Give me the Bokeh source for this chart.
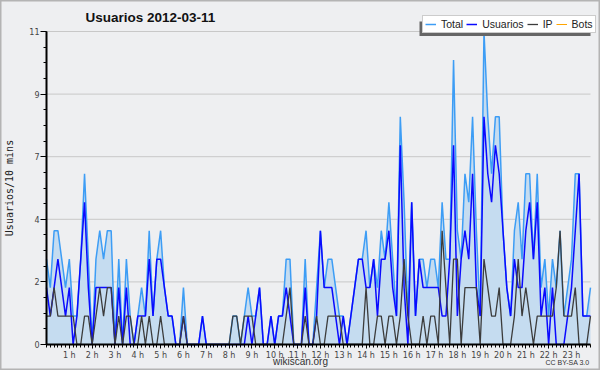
from bokeh.plotting import figure
from bokeh.models import (Range1d, FixedTicker, CustomJSTickFormatter, Legend, LegendItem,
                          Label, BoxAnnotation)
from bokeh.embed import file_html
from bokeh.resources import INLINE

# values per 10-minute slot (144 slots)
total = [3, 2, 4, 4, 3, 2, 3, 1, 1, 3,
         6, 3, 0, 3, 4, 3, 4, 4, 0, 3,
         0, 3, 1, 0, 1, 2, 1, 4, 1, 3,
         4, 2, 1, 1, 0, 0, 2, 0, 0, 0,
         0, 1, 0, 0, 0, 0, 0, 0, 0, 1,
         1, 0, 1, 2, 1, 1, 2, 0, 0, 1,
         0, 1, 1, 3, 3, 0, 0, 0, 3, 0,
         0, 2, 4, 2, 3, 3, 2, 1, 1, 0,
         1, 2, 3, 3, 4, 2, 3, 2, 4, 3,
         5, 3, 1, 8, 5, 1, 5, 1, 3, 3,
         2, 3, 3, 2, 5, 3, 3, 10, 4, 3,
         6, 5, 8, 4, 1, 11, 8, 6, 8, 8,
         4, 2, 1, 4, 5, 3, 6, 6, 3, 6,
         2, 3, 1, 3, 2, 4, 1, 2, 3, 6,
         6, 1, 1, 2]
usuarios = [2, 1, 2, 3, 2, 1, 2, 0, 1, 3,
            5, 2, 0, 2, 2, 2, 2, 2, 0, 2,
            0, 2, 0, 0, 1, 1, 1, 3, 1, 3,
            3, 2, 1, 1, 0, 0, 1, 0, 0, 0,
            0, 1, 0, 0, 0, 0, 0, 0, 0, 0,
            0, 0, 0, 1, 0, 1, 2, 0, 0, 1,
            0, 1, 1, 2, 1, 0, 0, 0, 2, 0,
            0, 1, 4, 2, 2, 2, 1, 0, 1, 0,
            1, 2, 3, 3, 2, 2, 3, 1, 3, 3,
            4, 2, 1, 7, 2, 0, 5, 1, 3, 2,
            2, 2, 2, 2, 1, 1, 3, 7, 1, 3,
            4, 3, 6, 2, 1, 8, 6, 5, 7, 6,
            4, 2, 1, 3, 2, 2, 4, 5, 3, 5,
            1, 2, 0, 2, 0, 0, 0, 1, 2, 4,
            6, 1, 1, 1]
ip = [1, 1, 2, 1, 1, 1, 1, 1, 0, 0,
      1, 1, 0, 1, 2, 1, 2, 2, 0, 1,
      0, 1, 1, 0, 0, 1, 0, 1, 0, 0,
      1, 0, 0, 0, 0, 0, 1, 0, 0, 0,
      0, 0, 0, 0, 0, 0, 0, 0, 0, 1,
      1, 0, 1, 1, 1, 0, 0, 0, 0, 0,
      0, 0, 0, 1, 2, 0, 0, 0, 1, 0,
      0, 1, 0, 0, 1, 1, 1, 1, 0, 0,
      0, 0, 0, 0, 2, 0, 0, 1, 1, 0,
      1, 1, 0, 1, 3, 1, 0, 0, 0, 1,
      0, 1, 1, 0, 4, 2, 0, 3, 3, 0,
      2, 2, 2, 2, 0, 3, 2, 1, 1, 2,
      0, 0, 0, 1, 3, 1, 2, 1, 0, 1,
      1, 1, 1, 1, 2, 4, 1, 1, 1, 2,
      0, 0, 0, 1]
bots = [0] * 144
slots = list(range(len(total)))

hours = list(range(1, 24))          # labelled hour ticks "1 h" .. "23 h"
slots_per_hour = 6
y_max = 11
y_tick_count = 5                    # ticks shown rounded: 0, 2, 4, 7, 9, 11

series_names = ["Total", "Usuarios", "IP", "Bots"]

# ---- layout (pixels) ----
W, H = 600, 370
PL, PR, PT, PB = 46, 590, 31, 344   # data area inside the canvas
n = len(total)
xs = (PR - PL) / (n - 1)
ys = (PB - PT) / y_max

p = figure(width=W, height=H, output_backend="svg", toolbar_location=None,
           x_range=Range1d(-PL / xs, (n - 1) + (W - PR) / xs),
           y_range=Range1d(-(H - PB) / ys, y_max + PT / ys),
           min_border=0, min_border_left=0, min_border_right=0,
           min_border_top=0, min_border_bottom=0,
           background_fill_color="#eeeff1", border_fill_color="#eeeff1",
           outline_line_color="#b4b4b4", outline_line_width=2)

# axes drawn inside the canvas at data 0
p.xaxis.fixed_location = 0
p.yaxis.fixed_location = 0
p.xaxis.bounds = (0, n - 1)
p.yaxis.bounds = (0, y_max)
p.xaxis.ticker = FixedTicker(ticks=[h * slots_per_hour for h in hours],
                             minor_ticks=slots)
p.xaxis.formatter = CustomJSTickFormatter(code="return (tick/6) + ' h'")
y_ticks = [y_max * k / y_tick_count for k in range(y_tick_count + 1)]
y_minor = [y_max * k / (y_tick_count * 4) for k in range(y_tick_count * 4 + 1)]
p.yaxis.ticker = FixedTicker(ticks=y_ticks, minor_ticks=y_minor)
p.yaxis.formatter = CustomJSTickFormatter(code="return Math.round(tick).toString()")
p.yaxis.axis_label = "Usuarios/10 mins"
p.yaxis.axis_label_text_font = "DejaVu Sans Mono"
p.yaxis.axis_label_text_font_size = "10px"
p.yaxis.axis_label_text_font_style = "normal"
p.yaxis.axis_label_text_color = "#222222"
p.yaxis.axis_label_standoff = 11

for ax in (p.xaxis[0], p.yaxis[0]):
    ax.axis_line_color = "black"
    ax.axis_line_width = 2
    ax.major_tick_in = 0
    ax.minor_tick_in = 0
    ax.major_tick_line_color = "black"
    ax.minor_tick_line_color = "black"
    ax.major_label_text_font = "DejaVu Sans"
    ax.major_label_text_font_size = "8px"
    ax.major_label_text_color = "#444444"
p.xaxis.major_tick_out = 4
p.xaxis.minor_tick_out = 3
p.xaxis.major_label_standoff = 2
p.yaxis.major_tick_out = 6
p.yaxis.minor_tick_out = 3
p.yaxis.major_label_standoff = 1

# horizontal grid lines only across the data area
p.xgrid.visible = False
p.ygrid.visible = False
p.segment(x0=0, x1=n - 1, y0=y_ticks, y1=y_ticks, line_color="#c8c8c8",
          line_width=1, level="underlay")

# data
bots_r = p.line(slots, bots, line_color="orange", line_width=1)
p.varea(x=slots, y1=0, y2=total, fill_color="#c5dcf0")
tot_r = p.line(slots, total, line_color="#3d9df5", line_width=1.5)
usr_r = p.line(slots, usuarios, line_color="#0a0aff", line_width=1.5)
ip_r = p.line(slots, ip, line_color="#3c3c3c", line_width=1.3)

# legend shadow + legend (screen units, origin bottom-left)
p.add_layout(BoxAnnotation(left=419, right=590, top=H - 21, bottom=H - 35.5,
                           left_units="screen", right_units="screen",
                           top_units="screen", bottom_units="screen",
                           fill_color="#666666", fill_alpha=1, line_color=None))
legend = Legend(items=[LegendItem(label=nm, renderers=[r]) for nm, r in
                       zip(series_names, [tot_r, usr_r, ip_r, bots_r])],
                orientation="horizontal", location=(422, H - 32.5),
                glyph_width=11, glyph_height=10, label_height=10, label_width=0,
                label_standoff=5, spacing=3, padding=2, margin=0,
                label_text_font="Liberation Sans", label_text_font_size="10.5px",
                label_text_color="#222222",
                border_line_color="#9a9a9a", border_line_width=1,
                background_fill_color="white", background_fill_alpha=1)
p.add_layout(legend)

# texts
p.add_layout(Label(x=85, y=H - 17, x_units="screen", y_units="screen",
                   text="Usuarios  2012-03-11", text_font="Liberation Sans",
                   text_font_style="bold", text_font_size="13.5px", text_color="#111111",
                   text_baseline="middle"))
p.add_layout(Label(x=300, y=H - 361, x_units="screen", y_units="screen",
                   text="wikiscan.org", text_font="Liberation Sans",
                   text_font_size="10px", text_color="#333333",
                   text_align="center", text_baseline="middle"))
p.add_layout(Label(x=589, y=H - 362, x_units="screen", y_units="screen",
                   text="CC BY-SA 3.0", text_font="Liberation Sans",
                   text_font_size="7px", text_color="#333333",
                   text_align="right", text_baseline="middle"))

open("out.html", "w").write(file_html(p, INLINE))
